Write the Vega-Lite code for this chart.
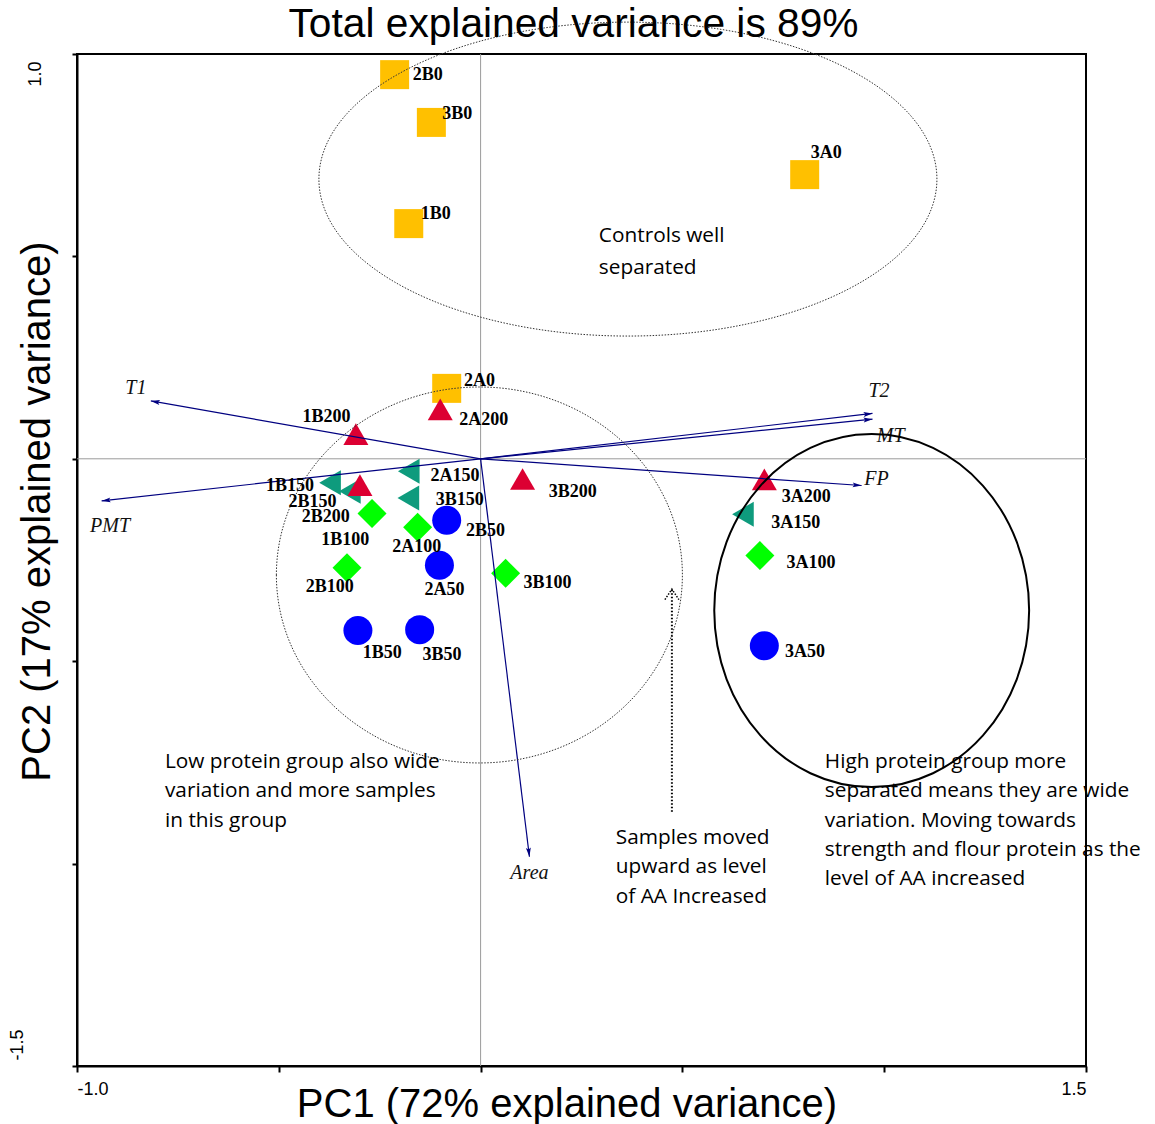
{
  "$schema": "https://vega.github.io/schema/vega-lite/v6.json",
  "width": 1009,
  "height": 1012,
  "autosize": {"type": "none"},
  "padding": {"left": 77, "top": 54, "right": 69, "bottom": 58},
  "background": "white",
  "title": {
    "text": "Total explained variance is 89%",
    "font": "Liberation Sans",
    "fontSize": 40.7,
    "fontWeight": "normal",
    "color": "black",
    "anchor": "middle",
    "frame": "group",
    "dx": -8,
    "baseline": "alphabetic",
    "offset": -58
  },
  "config": {
    "view": {"stroke": "black", "strokeWidth": 2},
    "axis": {"grid": false}
  },
  "datasets": {
    "samples": [
      {"id": "2B0", "level": "0", "x": -0.213, "y": 0.949, "lx": -0.168, "ly": 0.948},
      {"id": "3B0", "level": "0", "x": -0.122, "y": 0.831, "lx": -0.095, "ly": 0.852},
      {"id": "1B0", "level": "0", "x": -0.178, "y": 0.581, "lx": -0.148, "ly": 0.605},
      {"id": "3A0", "level": "0", "x": 0.803, "y": 0.702, "lx": 0.818, "ly": 0.755},
      {"id": "2A0", "level": "0", "x": -0.084, "y": 0.174, "lx": -0.041, "ly": 0.193},
      {"id": "2B50", "level": "50", "x": -0.084, "y": -0.152, "lx": -0.036, "ly": -0.178},
      {"id": "2A50", "level": "50", "x": -0.102, "y": -0.263, "lx": -0.139, "ly": -0.324},
      {"id": "1B50", "level": "50", "x": -0.304, "y": -0.424, "lx": -0.292, "ly": -0.479},
      {"id": "3B50", "level": "50", "x": -0.151, "y": -0.422, "lx": -0.144, "ly": -0.485},
      {"id": "3A50", "level": "50", "x": 0.703, "y": -0.462, "lx": 0.754, "ly": -0.478},
      {"id": "1B100", "level": "100", "x": -0.269, "y": -0.135, "lx": -0.395, "ly": -0.201},
      {"id": "2A100", "level": "100", "x": -0.156, "y": -0.169, "lx": -0.219, "ly": -0.219},
      {"id": "2B100", "level": "100", "x": -0.331, "y": -0.269, "lx": -0.433, "ly": -0.316},
      {"id": "3B100", "level": "100", "x": 0.062, "y": -0.283, "lx": 0.106, "ly": -0.308},
      {"id": "3A100", "level": "100", "x": 0.692, "y": -0.239, "lx": 0.758, "ly": -0.257},
      {"id": "1B150", "level": "150", "x": -0.373, "y": -0.059, "lx": -0.532, "ly": -0.067},
      {"id": "2B150", "level": "150", "x": -0.324, "y": -0.080, "lx": -0.476, "ly": -0.106},
      {"id": "2A150", "level": "150", "x": -0.178, "y": -0.031, "lx": -0.124, "ly": -0.042},
      {"id": "3B150", "level": "150", "x": -0.179, "y": -0.097, "lx": -0.111, "ly": -0.102},
      {"id": "3A150", "level": "150", "x": 0.650, "y": -0.137, "lx": 0.720, "ly": -0.159},
      {"id": "1B200", "level": "200", "x": -0.309, "y": 0.061, "lx": -0.441, "ly": 0.103},
      {"id": "2A200", "level": "200", "x": -0.100, "y": 0.122, "lx": -0.053, "ly": 0.096},
      {"id": "2B200", "level": "200", "x": -0.299, "y": -0.065, "lx": -0.443, "ly": -0.145},
      {"id": "3B200", "level": "200", "x": 0.104, "y": -0.050, "lx": 0.169, "ly": -0.081},
      {"id": "3A200", "level": "200", "x": 0.703, "y": -0.051, "lx": 0.746, "ly": -0.095}
    ],
    "loadings": [
      {"var": "T1", "x0": 0, "y0": 0, "x": -0.817, "y": 0.143, "tx": -0.854, "ty": 0.176},
      {"var": "PMT", "x0": 0, "y0": 0, "x": -0.939, "y": -0.104, "tx": -0.918, "ty": -0.165},
      {"var": "T2", "x0": 0, "y0": 0, "x": 0.971, "y": 0.112, "tx": 0.987, "ty": 0.168},
      {"var": "MT", "x0": 0, "y0": 0, "x": 0.971, "y": 0.098, "tx": 1.016, "ty": 0.056},
      {"var": "FP", "x0": 0, "y0": 0, "x": 0.944, "y": -0.066, "tx": 0.981, "ty": -0.050},
      {"var": "Area", "x0": 0, "y0": 0, "x": 0.121, "y": -0.983, "tx": 0.121, "ty": -1.024}
    ],
    "groups": [
      {"group": "controls", "cx": 0.365, "cy": 0.691},
      {"group": "low", "cx": -0.003, "cy": -0.287},
      {"group": "high", "cx": 0.969, "cy": -0.375}
    ],
    "trend": [
      {"x": 0.474, "y": -0.872, "y2": -0.322}
    ],
    "notes": [
      {"note": "Controls well", "tx": 0.293, "ty": 0.550},
      {"note": "separated", "tx": 0.293, "ty": 0.471},
      {"note": "Low protein group also wide\nvariation and more samples\nin this group", "tx": -0.782, "ty": -0.749},
      {"note": "Samples moved\nupward as level\nof AA Increased", "tx": 0.335, "ty": -0.937},
      {"note": "High protein group more\nseparated means they are wide\nvariation. Moving towards\nstrength and flour protein as the\nlevel of AA increased", "tx": 0.853, "ty": -0.749}
    ]
  },
  "layer": [
    {
      "data": {"values": [{"v": 0}]},
      "mark": {"type": "rule", "color": "#9a9a9a", "strokeWidth": 1},
      "encoding": {"y": {"field": "v", "type": "quantitative"}}
    },
    {
      "data": {"values": [{"v": 0}]},
      "mark": {"type": "rule", "color": "#9a9a9a", "strokeWidth": 1},
      "encoding": {"x": {"field": "v", "type": "quantitative"}}
    },
    {
      "data": {"name": "samples"},
      "transform": [{"filter": "datum.level == '0' || datum.level == '50' || datum.level == '100'"}],
      "mark": {"type": "point", "filled": true, "opacity": 1, "strokeWidth": 0, "size": 841},
      "encoding": {
        "x": {
          "field": "x", "type": "quantitative",
          "scale": {"domain": [-1, 1.5], "nice": false, "zero": false},
          "axis": {
            "title": "PC1 (72% explained variance)",
            "values": [-1, -0.5, 0, 0.5, 1, 1.5],
            "labelExpr": "datum.value == -1 ? '-1.0' : datum.value == 1.5 ? '1.5' : ''",
            "labelFlush": true,
            "labelOverlap": false,
            "labelFont": "Liberation Sans",
            "labelFontSize": 18,
            "labelColor": "black",
            "labelPadding": 8,
            "domainColor": "black",
            "domainWidth": 2,
            "tickColor": "black",
            "tickWidth": 2,
            "tickSize": 6,
            "grid": false,
            "titleFont": "Liberation Sans",
            "titleFontSize": 40,
            "titleFontWeight": "normal",
            "titleColor": "black",
            "titleX": 489.5,
            "titleY": 50,
            "titleAlign": "center",
            "titleBaseline": "alphabetic"
          }
        },
        "y": {
          "field": "y", "type": "quantitative",
          "scale": {"domain": [-1.5, 1], "nice": false, "zero": false},
          "axis": {
            "title": "PC2 (17% explained variance)",
            "values": [-1.5, -1, -0.5, 0, 0.5, 1],
            "labelExpr": "datum.value == 1 ? '1.0' : datum.value == -1.5 ? '-1.5' : ''",
            "labelAngle": 270,
            "labelFlush": false,
            "labelOverlap": false,
            "labelAlign": {"condition": {"test": "datum.value > 0", "value": "right"}, "value": "left"},
            "labelBaseline": {"condition": {"test": "datum.value > 0", "value": "top"}, "value": "bottom"},
            "labelOffset": {"condition": {"test": "datum.value > 0", "value": 7}, "value": -6},
            "labelFont": "Liberation Sans",
            "labelFontSize": 18,
            "labelColor": "black",
            "labelPadding": 46,
            "domainColor": "black",
            "domainWidth": 2,
            "tickColor": "black",
            "tickWidth": 2,
            "tickSize": 5,
            "grid": false,
            "titleFont": "Liberation Sans",
            "titleFontSize": 40,
            "titleFontWeight": "normal",
            "titleColor": "black",
            "titleAngle": 270,
            "titleX": -28,
            "titleY": 457,
            "titleAlign": "center",
            "titleBaseline": "alphabetic"
          }
        },
        "shape": {"field": "level", "type": "nominal", "scale": {"domain": ["0", "50", "100", "150", "200"], "range": ["square", "circle", "diamond", "triangle-left", "triangle-up"]}, "legend": null},
        "color": {"field": "level", "type": "nominal", "scale": {"domain": ["0", "50", "100", "150", "200"], "range": ["#FFC000", "#0000FF", "#00FF00", "#0E9B7D", "#DC0032"]}, "legend": null}
      }
    },
    {
      "data": {"name": "samples"},
      "transform": [{"filter": "datum.level == '150' || datum.level == '200'"}],
      "mark": {"type": "point", "filled": true, "opacity": 1, "strokeWidth": 0, "size": 625},
      "encoding": {
        "x": {"field": "x", "type": "quantitative"},
        "y": {"field": "y", "type": "quantitative"},
        "shape": {"field": "level", "type": "nominal", "legend": null},
        "color": {"field": "level", "type": "nominal", "legend": null}
      }
    },
    {
      "data": {"name": "loadings"},
      "mark": {"type": "rule", "color": "#000080", "strokeWidth": 1.2},
      "encoding": {
        "x": {"field": "x0", "type": "quantitative"},
        "y": {"field": "y0", "type": "quantitative"},
        "x2": {"field": "x"},
        "y2": {"field": "y"}
      }
    },
    {
      "data": {"name": "loadings"},
      "mark": {
        "type": "point", "filled": true, "opacity": 1, "strokeWidth": 0,
        "shape": "M0,0L-0.55,2L0,1.6L0.55,2Z",
        "size": 81, "color": "#000080",
        "angle": {"expr": "atan2(datum.x, datum.y) * 180 / PI"}
      },
      "encoding": {
        "x": {"field": "x", "type": "quantitative"},
        "y": {"field": "y", "type": "quantitative"}
      }
    },
    {
      "data": {"name": "loadings"},
      "mark": {"type": "text", "font": "Liberation Serif", "fontStyle": "italic", "fontSize": 20, "align": "center", "baseline": "middle", "color": "#111111"},
      "encoding": {
        "x": {"field": "tx", "type": "quantitative"},
        "y": {"field": "ty", "type": "quantitative"},
        "text": {"field": "var"}
      }
    },
    {
      "data": {"name": "groups"},
      "transform": [{"filter": "datum.group == 'controls'"}],
      "mark": {
        "type": "point", "filled": false, "opacity": 1, "color": "#333333", "strokeWidth": 1, "strokeDash": [1.5, 1.5],
        "shape": "M-1,0C-1,-0.2806,-0.5523,-0.508,0,-0.508C0.5523,-0.508,1,-0.2806,1,0C1,0.2806,0.5523,0.508,0,0.508C-0.5523,0.508,-1,0.2806,-1,0Z",
        "size": 381924
      },
      "encoding": {
        "x": {"field": "cx", "type": "quantitative"},
        "y": {"field": "cy", "type": "quantitative"}
      }
    },
    {
      "data": {"name": "groups"},
      "transform": [{"filter": "datum.group == 'low'"}],
      "mark": {
        "type": "point", "filled": false, "opacity": 1, "color": "#333333", "strokeWidth": 1, "strokeDash": [1.5, 1.5],
        "shape": "M-1,0C-1,-0.5114,-0.5523,-0.926,0,-0.926C0.5523,-0.926,1,-0.5114,1,0C1,0.5114,0.5523,0.926,0,0.926C-0.5523,0.926,-1,0.5114,-1,0Z",
        "size": 164836
      },
      "encoding": {
        "x": {"field": "cx", "type": "quantitative"},
        "y": {"field": "cy", "type": "quantitative"}
      }
    },
    {
      "data": {"name": "groups"},
      "transform": [{"filter": "datum.group == 'high'"}],
      "mark": {
        "type": "point", "filled": false, "opacity": 1, "color": "black", "strokeWidth": 2,
        "shape": "M-0.892,0C-0.892,-0.5523,-0.4927,-1,0,-1C0.4927,-1,0.892,-0.5523,0.892,0C0.892,0.5523,0.4927,1,0,1C-0.4927,1,-0.892,0.5523,-0.892,0Z",
        "size": 124609
      },
      "encoding": {
        "x": {"field": "cx", "type": "quantitative"},
        "y": {"field": "cy", "type": "quantitative"}
      }
    },
    {
      "data": {"name": "trend"},
      "mark": {"type": "rule", "color": "black", "strokeWidth": 2, "strokeDash": [1.5, 2]},
      "encoding": {
        "x": {"field": "x", "type": "quantitative"},
        "y": {"field": "y", "type": "quantitative"},
        "y2": {"field": "y2"}
      }
    },
    {
      "data": {"name": "trend"},
      "mark": {"type": "point", "filled": false, "opacity": 1, "color": "black", "strokeWidth": 1.5, "strokeDash": [1.5, 1.5], "shape": "M-1,1.5L0,0L1,1.5", "size": 196},
      "encoding": {
        "x": {"field": "x", "type": "quantitative"},
        "y": {"field": "y2", "type": "quantitative"}
      }
    },
    {
      "data": {"name": "samples"},
      "mark": {"type": "text", "font": "Liberation Serif", "fontWeight": "bold", "fontSize": 18, "align": "left", "baseline": "middle", "color": "black"},
      "encoding": {
        "x": {"field": "lx", "type": "quantitative"},
        "y": {"field": "ly", "type": "quantitative"},
        "text": {"field": "id"}
      }
    },
    {
      "data": {"name": "notes"},
      "mark": {"type": "text", "font": "Open Sans", "fontSize": 20.8, "align": "left", "baseline": "middle", "lineBreak": "\n", "lineHeight": 29.3, "color": "black"},
      "encoding": {
        "x": {"field": "tx", "type": "quantitative"},
        "y": {"field": "ty", "type": "quantitative"},
        "text": {"field": "note"}
      }
    }
  ]
}
